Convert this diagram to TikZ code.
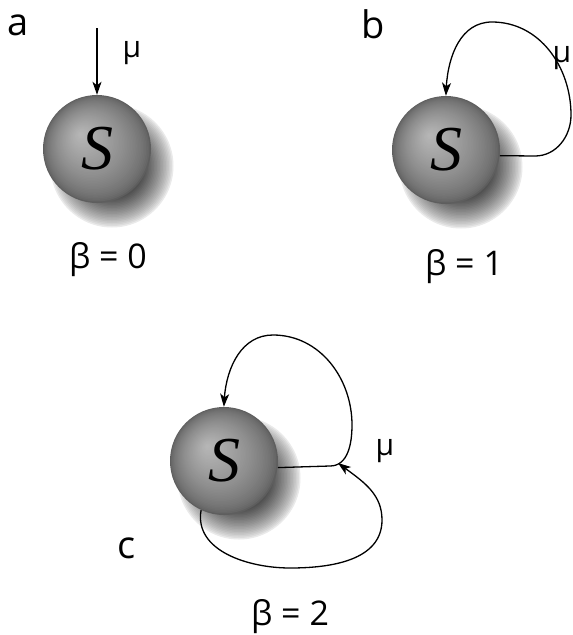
\documentclass[tikz,border=0pt]{standalone}
\usepackage{fontspec}
\setmainfont{Open Sans}
\newfontfamily\serifS{Liberation Serif}
\usetikzlibrary{arrows.meta,bending}
% shaded sphere with soft shadow, built from concentric discs
\newcommand{\spherepaint}[2]{% #1 = x, #2 = y (centre)
  \foreach \i in {0,...,40}{%
    \pgfmathsetmacro\rr{63-1.5*\i}%
    \pgfmathsetmacro\lv{68*(min(1,max(0,(63-\rr)/30)))^0.7}%
    \fill[black!\lv] (#1+15,#2-17) circle (\rr);
  }%
  \foreach \i in {0,...,45}{%
    \pgfmathsetmacro\t{\i/45}%
    \pgfmathsetmacro\rr{54*(1-\t)}%
    \pgfmathsetmacro\lv{63-35*(\t)^0.65}%
    \fill[black!\lv] (#1-17*\t,#2+15*\t) circle (\rr);
  }%
}
\begin{document}
\begin{tikzpicture}[x=1pt,y=1pt,
  ball/.style={circle, minimum size=108pt, inner sep=0pt,
    font=\serifS\itshape\fontsize{64}{64}\selectfont},
  arr/.style={-{Stealth[length=13pt,width=9pt,inset=3.5pt,bend]}, line width=1.3pt},
  lbl/.style={inner sep=0pt, font=\fontsize{38}{38}\selectfont},
  mulbl/.style={inner sep=0pt, font=\fontsize{30}{30}\selectfont},
  betalbl/.style={inner sep=0pt, anchor=base, font=\fontsize{34}{34}\selectfont}]
\fill[white] (0,0) rectangle (573,-635);
\useasboundingbox (0,0) rectangle (573,-635);
% sphere paintings
\spherepaint{97}{-149}
\spherepaint{446}{-150}
\spherepaint{224}{-461}
% sphere nodes
\node[ball] (sa) at (97,-149) {S};
\node[ball] (sb) at (446,-150) {S};
\node[ball] (sc) at (224,-461) {S};
% panel labels
\node[lbl] (la) at (18,-25) {a};
\node[lbl] (lb) at (373,-24) {b};
\node[lbl] (lc) at (127,-548) {c};
% mu labels
\node[mulbl] (mua) at (132,-53) {μ};
\node[mulbl] (mub) at (562,-58) {μ};
\node[mulbl] (muc) at (385,-451) {μ};
% beta labels
\node[betalbl] (ba) at (108,-268) {β = 0};
\node[betalbl] (bb) at (464,-275) {β = 1};
\node[betalbl] (bc) at (290,-625) {β = 2};
% arrows
\coordinate (a0) at (97,-28);
\draw[arr] (a0) -- (sa.north);
\draw[arr] (sb.-6) -- (535,-156) to[out=0,in=-90] (571,-115) to[out=90,in=0] (492,-22) to[out=180,in=90] (sb.north);
\draw[arr] (sc.-7) -- (330,-466) to[out=0,in=-90] (352,-425) to[out=90,in=0] (273,-335) to[out=180,in=90] (sc.north);
\coordinate (cin) at (338,-463);
\draw[arr] (sc.-115) to[out=-100,in=180] (290,-568) to[out=0,in=-90] (382,-520) to[out=90,in=-37] (cin);
\end{tikzpicture}
\end{document}
